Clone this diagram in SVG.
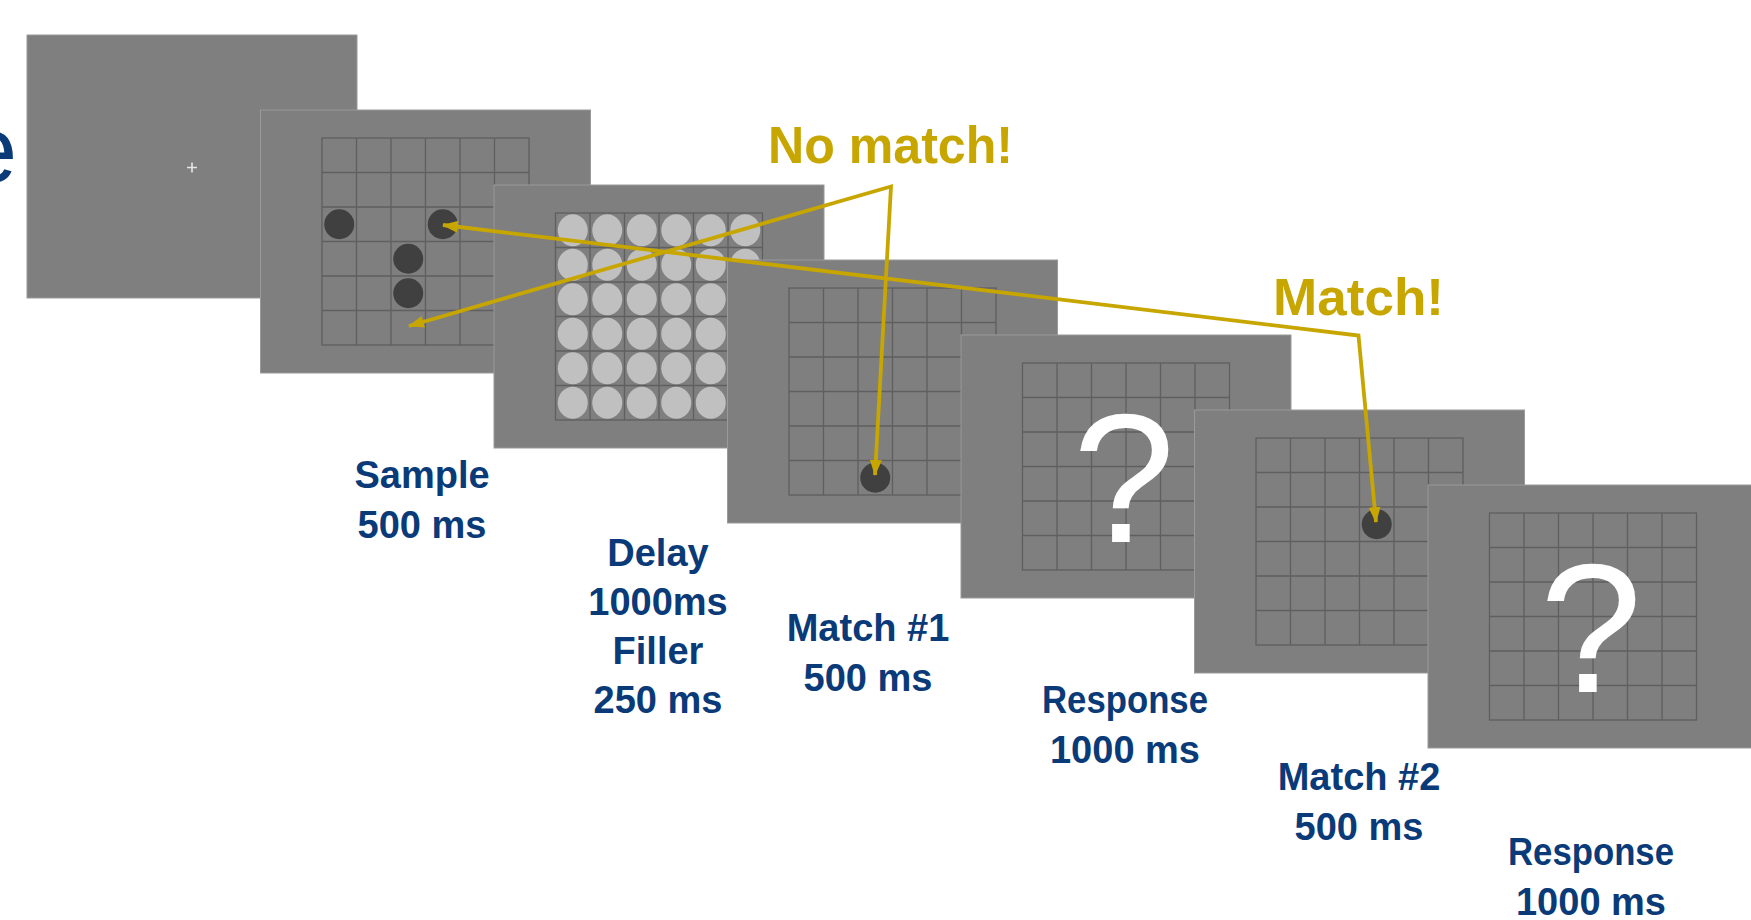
<svg xmlns="http://www.w3.org/2000/svg" xmlns:xlink="http://www.w3.org/1999/xlink" width="1751" height="920" viewBox="0 0 1751 920">
  <style>
    .screen { fill: #7f7f7f; stroke: #9a9a9a; stroke-width: 1; }
    .gridline { stroke: #5f5f5f; stroke-width: 1.3; fill: none; }
    .dot { fill: #404040; }
    .filler { fill: #c0c0c0; }
    .qmark { font-family: "Liberation Sans", Arial, sans-serif; font-size: 184px; fill: #ffffff; text-anchor: middle; }
    .label { font-family: "Liberation Sans", Arial, sans-serif; font-weight: 700; font-size: 38px; fill: #0a3a78; text-anchor: middle; }
    .callout { font-family: "Liberation Sans", Arial, sans-serif; font-weight: 700; font-size: 52px; fill: #c8a600; }
    .link { fill: none; stroke: #c8a600; stroke-width: 3.8; stroke-linejoin: miter; }
  </style>
  <defs>
    <!-- 6 x 6 response grid, 34.5 px cells -->
    <g id="grid" class="gridline">
      <rect x="0" y="0" width="207" height="207"/>
      <path d="M34.5 0V207M69 0V207M103.5 0V207M138 0V207M172.5 0V207M0 34.5H207M0 69H207M0 103.5H207M0 138H207M0 172.5H207"/>
    </g>
    <marker id="head" viewBox="0 0 16 12" refX="15" refY="6" markerWidth="16" markerHeight="12" markerUnits="userSpaceOnUse" orient="auto-start-reverse">
      <path d="M0 0L16 6L0 12z" fill="#c8a600"/>
    </marker>
  </defs>

  <rect width="1751" height="920" fill="#ffffff"/>

  <!-- title fragment at the left edge -->
  <text x="17" y="182" font-family="'Liberation Sans', Arial, sans-serif" font-size="94" fill="#0a3a78" text-anchor="end">e</text>

  <!-- fixation screen -->
  <g id="fixation">
    <rect class="screen" x="27" y="35" width="330" height="263"/>
    <path d="M187 167.5H197M192 162.5V172.5" stroke="#e6e6e6" stroke-width="1.6"/>
  </g>

  <!-- sample screen -->
  <g id="sample">
    <rect class="screen" x="260.5" y="110" width="330" height="263"/>
    <use xlink:href="#grid" x="322" y="138"/>
    <circle class="dot" cx="339.25" cy="224.25" r="15"/>
    <circle class="dot" cx="442.75" cy="224.25" r="15"/>
    <circle class="dot" cx="408.25" cy="258.75" r="15"/>
    <circle class="dot" cx="408.25" cy="293.25" r="15"/>
  </g>

  <!-- delay / filler screen -->
  <g id="filler">
    <rect class="screen" x="494" y="185" width="330" height="263"/>
    <use xlink:href="#grid" x="555.5" y="213"/>
    <g class="filler">
      <ellipse cx="572.75" cy="230.25" rx="15" ry="16"/><ellipse cx="607.25" cy="230.25" rx="15" ry="16"/><ellipse cx="641.75" cy="230.25" rx="15" ry="16"/><ellipse cx="676.25" cy="230.25" rx="15" ry="16"/><ellipse cx="710.75" cy="230.25" rx="15" ry="16"/><ellipse cx="745.25" cy="230.25" rx="15" ry="16"/>
      <ellipse cx="572.75" cy="264.75" rx="15" ry="16"/><ellipse cx="607.25" cy="264.75" rx="15" ry="16"/><ellipse cx="641.75" cy="264.75" rx="15" ry="16"/><ellipse cx="676.25" cy="264.75" rx="15" ry="16"/><ellipse cx="710.75" cy="264.75" rx="15" ry="16"/><ellipse cx="745.25" cy="264.75" rx="15" ry="16"/>
      <ellipse cx="572.75" cy="299.25" rx="15" ry="16"/><ellipse cx="607.25" cy="299.25" rx="15" ry="16"/><ellipse cx="641.75" cy="299.25" rx="15" ry="16"/><ellipse cx="676.25" cy="299.25" rx="15" ry="16"/><ellipse cx="710.75" cy="299.25" rx="15" ry="16"/><ellipse cx="745.25" cy="299.25" rx="15" ry="16"/>
      <ellipse cx="572.75" cy="333.75" rx="15" ry="16"/><ellipse cx="607.25" cy="333.75" rx="15" ry="16"/><ellipse cx="641.75" cy="333.75" rx="15" ry="16"/><ellipse cx="676.25" cy="333.75" rx="15" ry="16"/><ellipse cx="710.75" cy="333.75" rx="15" ry="16"/><ellipse cx="745.25" cy="333.75" rx="15" ry="16"/>
      <ellipse cx="572.75" cy="368.25" rx="15" ry="16"/><ellipse cx="607.25" cy="368.25" rx="15" ry="16"/><ellipse cx="641.75" cy="368.25" rx="15" ry="16"/><ellipse cx="676.25" cy="368.25" rx="15" ry="16"/><ellipse cx="710.75" cy="368.25" rx="15" ry="16"/><ellipse cx="745.25" cy="368.25" rx="15" ry="16"/>
      <ellipse cx="572.75" cy="402.75" rx="15" ry="16"/><ellipse cx="607.25" cy="402.75" rx="15" ry="16"/><ellipse cx="641.75" cy="402.75" rx="15" ry="16"/><ellipse cx="676.25" cy="402.75" rx="15" ry="16"/><ellipse cx="710.75" cy="402.75" rx="15" ry="16"/><ellipse cx="745.25" cy="402.75" rx="15" ry="16"/>
    </g>
  </g>

  <!-- first match probe -->
  <g id="match1">
    <rect class="screen" x="727.5" y="260" width="330" height="263"/>
    <use xlink:href="#grid" x="789" y="288"/>
    <circle class="dot" cx="875.25" cy="477.75" r="15"/>
  </g>

  <!-- first response screen -->
  <g id="response1">
    <rect class="screen" x="961" y="335" width="330" height="263"/>
    <use xlink:href="#grid" x="1022.5" y="363"/>
    <text class="qmark" x="1124" y="542">?</text>
  </g>

  <!-- second match probe -->
  <g id="match2">
    <rect class="screen" x="1194.5" y="410" width="330" height="263"/>
    <use xlink:href="#grid" x="1256" y="438"/>
    <circle class="dot" cx="1376.75" cy="524.25" r="15"/>
  </g>

  <!-- second response screen -->
  <g id="response2">
    <rect class="screen" x="1428" y="485" width="330" height="263"/>
    <use xlink:href="#grid" x="1489.5" y="513"/>
    <text class="qmark" x="1591" y="692">?</text>
  </g>

  <!-- timing labels -->
  <g id="labels">
    <text class="label" x="422" y="488">Sample</text>
    <text class="label" x="422" y="538">500 ms</text>
    <text class="label" x="658" y="566">Delay</text>
    <text class="label" x="658" y="615">1000ms</text>
    <text class="label" x="658" y="664">Filler</text>
    <text class="label" x="658" y="713">250 ms</text>
    <text class="label" x="868" y="641">Match #1</text>
    <text class="label" x="868" y="691">500 ms</text>
    <text class="label" x="1125" y="713" textLength="166" lengthAdjust="spacingAndGlyphs">Response</text>
    <text class="label" x="1125" y="763">1000 ms</text>
    <text class="label" x="1359" y="790">Match #2</text>
    <text class="label" x="1359" y="840">500 ms</text>
    <text class="label" x="1591" y="865" textLength="166" lengthAdjust="spacingAndGlyphs">Response</text>
    <text class="label" x="1591" y="915">1000 ms</text>
  </g>

  <!-- location comparisons -->
  <g id="connectors">
    <path class="link" d="M409 326L891 186.5L875 475" marker-start="url(#head)" marker-end="url(#head)"/>
    <path class="link" d="M443 225L1358.5 335.5L1376 522" marker-start="url(#head)" marker-end="url(#head)"/>
    <text class="callout" x="768" y="163" textLength="245" lengthAdjust="spacingAndGlyphs">No match!</text>
    <text class="callout" x="1273" y="315" textLength="171" lengthAdjust="spacingAndGlyphs">Match!</text>
  </g>
</svg>
